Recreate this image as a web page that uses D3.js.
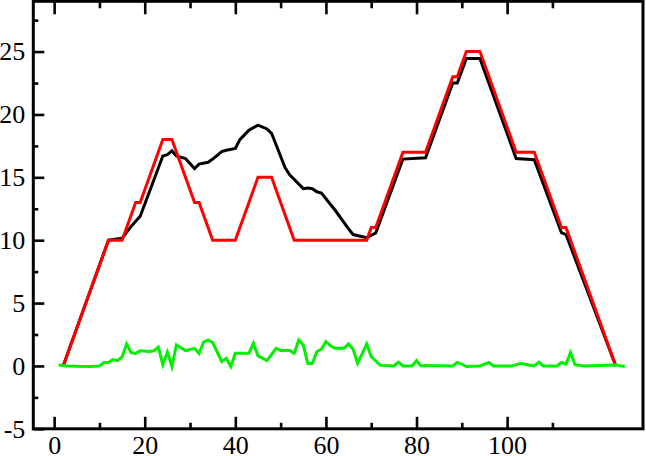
<!DOCTYPE html>
<html>
<head>
<meta charset="utf-8">
<script src="https://cdn.jsdelivr.net/npm/d3@7"></script>
<style>
  body { margin: 0; background: #fff; }
  .axis line { stroke: #000; stroke-width: 2.6; }
  .axis path { display: none; }
</style>
</head>
<body>
<script>
// red reference profile (breakpoints)
const redX = [2, 12, 15, 18, 19, 24, 26, 31, 32, 35, 40, 45, 48, 53, 69, 70, 71, 77, 82, 88, 89, 91, 94, 102, 106, 112, 113, 124];
const redY = [0, 10, 10, 13, 13, 18, 18, 13, 13, 10, 10, 15, 15, 10, 10, 11, 11, 17, 17, 23, 23, 25, 25, 17, 17, 11, 11, 0];

// black series
const blackX = [2, 12, 15, 17, 19, 24, 25, 26, 27, 29, 31, 32, 34, 35, 37, 38, 40, 41, 43, 45, 47, 48, 51, 52, 55, 56, 57, 58, 59, 62, 65, 66, 69, 71, 77, 82, 88, 89, 91, 94, 102, 106, 112, 113, 124];
const blackY = [0, 10, 10.15, 11.1, 11.9, 16.7, 16.8, 17.1, 16.7, 16.5, 15.7, 16.05, 16.2, 16.45, 17.05, 17.15, 17.3, 18.0, 18.75, 19.15, 18.85, 18.5, 15.75, 15.2, 14.1, 14.15, 14.1, 13.85, 13.75, 12.4, 10.9, 10.45, 10.2, 10.57, 16.45, 16.55, 22.5, 22.5, 24.45, 24.45, 16.5, 16.4, 10.6, 10.45, 0];

// green series
const greenX = [1, 3, 5, 8, 10, 11, 12, 13, 14, 15, 16, 17, 18, 19, 21, 22, 23, 24, 25, 26, 27, 29, 31, 32, 33, 34, 35, 37, 38, 39, 40, 43, 44, 45, 47, 49, 50, 52, 53, 54, 55, 56, 57, 58, 59, 60, 61, 62, 64, 65, 66, 67, 69, 70, 72, 75, 76, 77, 79, 80, 81, 82, 88, 89, 90, 91, 94, 96, 97, 101, 103, 106, 107, 108, 111, 112, 113, 114, 115, 117, 124, 126];
const greenY = [0.08, 0, -0.03, -0.04, 0, 0.27, 0.27, 0.5, 0.42, 0.72, 1.75, 1.06, 1.0, 1.2, 1.14, 1.2, 1.5, 0.1, 1.1, -0.05, 1.67, 1.22, 1.4, 1.0, 1.9, 2.07, 1.86, 0.35, 0.6, -0.05, 1.0, 1.0, 1.8, 0.8, 0.42, 1.4, 1.22, 1.22, 1.0, 2.07, 1.67, 0.2, 0.2, 1.14, 1.33, 1.94, 1.6, 1.4, 1.4, 1.75, 1.33, 0.2, 1.75, 0.74, 0.05, 0, 0.3, 0, 0, 0.42, 0, 0.03, 0, 0.27, 0.15, -0.05, 0, 0.27, 0, 0, 0.2, 0, 0.3, 0, 0, 0.27, 0.15, 1.06, 0.1, 0, 0.08, -0.05];

const xMajor = [0, 20, 40, 60, 80, 100];
const xMinor = [10, 30, 50, 70, 90, 110];
const yMajor = [-5, 0, 5, 10, 15, 20, 25];
const yMinor = [-2.5, 2.5, 7.5, 12.5, 17.5, 22.5, 27.5];

const width = 646, height = 456;

const svg = d3.select("body").append("svg")
  .attr("width", width)
  .attr("height", height);

const scaleX = d3.scaleLinear().domain([-4.6, 130]).range([33.3, 643]);
const scaleY = d3.scaleLinear().domain([-5, 29]).range([428.8, 1.3]);

// bottom axis
const xAxisG = svg.append("g")
  .attr("class", "axis")
  .attr("transform", `translate(0,${scaleY(-5)})`)
  .call(d3.axisBottom(scaleX).tickValues(xMajor).tickSize(-12).tickPadding(6.5));
svg.append("g")
  .attr("class", "axis")
  .attr("transform", `translate(0,${scaleY(-5)})`)
  .call(d3.axisBottom(scaleX).tickValues(xMinor).tickSize(-6).tickFormat(""));

// top axis, ticks only
svg.append("g")
  .attr("class", "axis")
  .attr("transform", `translate(0,${scaleY(29)})`)
  .call(d3.axisTop(scaleX).tickValues(xMajor).tickSize(-13).tickFormat(""));
svg.append("g")
  .attr("class", "axis")
  .attr("transform", `translate(0,${scaleY(29)})`)
  .call(d3.axisTop(scaleX).tickValues(xMinor).tickSize(-7).tickFormat(""));

// left axis
const yAxisG = svg.append("g")
  .attr("class", "axis")
  .attr("transform", `translate(${scaleX(-4.6)},0)`)
  .call(d3.axisLeft(scaleY).tickValues(yMajor).tickSize(-11).tickPadding(8).tickFormat(d => d < 0 ? "-" + (-d) : d));
svg.append("g")
  .attr("class", "axis")
  .attr("transform", `translate(${scaleX(-4.6)},0)`)
  .call(d3.axisLeft(scaleY).tickValues(yMinor).tickSize(-5).tickFormat(""));

[xAxisG, yAxisG].forEach(g => {
  g.attr("font-family", "Liberation Serif")
   .attr("font-size", 26);
  g.selectAll("text")
   .style("font-family", "'Liberation Serif', serif")
   .style("font-size", "26px")
   .style("fill", "#000");
});

// frame
svg.append("rect")
  .attr("x", scaleX(-4.6))
  .attr("y", scaleY(29))
  .attr("width", scaleX(130) - scaleX(-4.6))
  .attr("height", scaleY(-5) - scaleY(29))
  .attr("fill", "none")
  .attr("stroke", "#000")
  .attr("stroke-width", 3);

const line = d3.line()
  .x(d => scaleX(d[0]))
  .y(d => scaleY(d[1]));

const series = [
  {xs: blackX, ys: blackY, color: "#000000"},
  {xs: redX, ys: redY, color: "#ff0000"},
  {xs: greenX, ys: greenY, color: "#00f000"}
];

svg.selectAll(".series")
  .data(series)
  .enter()
  .append("path")
  .attr("class", "series")
  .attr("d", s => line(s.xs.map((x, i) => [x, s.ys[i]])))
  .attr("fill", "none")
  .attr("stroke", s => s.color)
  .attr("stroke-width", 3)
  .attr("stroke-linejoin", "miter");
</script>
</body>
</html>
